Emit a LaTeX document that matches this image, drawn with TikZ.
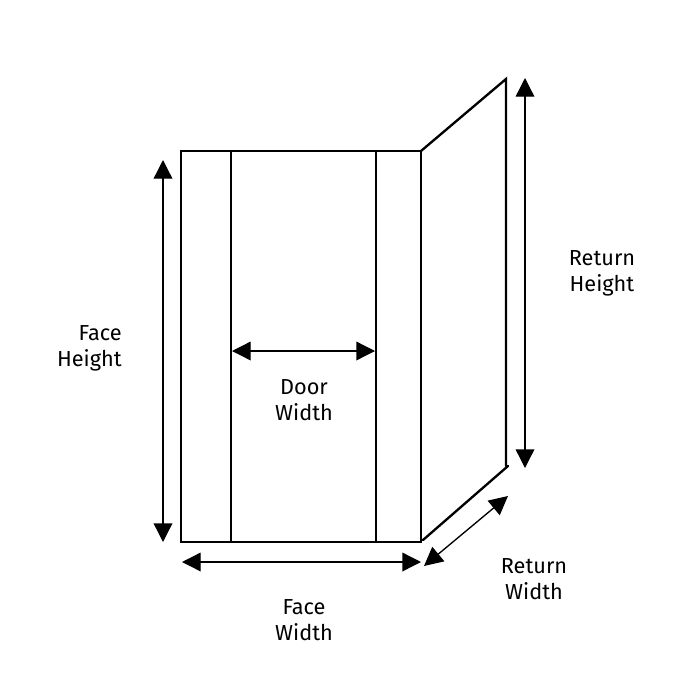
\documentclass[tikz,border=0pt]{standalone}
\usepackage{fontspec}
\setmainfont{Fira Sans}
\usetikzlibrary{arrows.meta,positioning}

\begin{document}
\begin{tikzpicture}[
  x=0.75pt, y=-0.75pt,
  wall/.style={line width=1.75pt, line cap=round, line join=miter},
  arr/.style={{Triangle[length=14pt,width=14pt]}-{Triangle[length=14pt,width=14pt]}, line width=1pt},
  lbl/.style={align=center, font=\fontsize{16.3}{19.5}\selectfont, inner sep=0pt}
]
\useasboundingbox (0,0) rectangle (700,700);

% frame corners
\coordinate (tl) at (181,151);
\coordinate (tr) at (421,151);
\coordinate (bl) at (181,542);
\coordinate (br) at (421,542);
\coordinate (dtl) at (231,151);
\coordinate (dbl) at (231,542);
\coordinate (dtr) at (376,151);
\coordinate (dbr) at (376,542);
\coordinate (rt) at (506,79);
\coordinate (rb) at (506,466);
\coordinate (rbs) at (423,540);
\coordinate (rbe) at (508,466);

% arrow ends
\coordinate (fh1) at (163,160);
\coordinate (fh2) at (163,542);
\coordinate (rh1) at (525,78);
\coordinate (rh2) at (525,468);
\coordinate (dw1) at (232,351);
\coordinate (dw2) at (375,351);
\coordinate (fw1) at (182,562);
\coordinate (fw2) at (421,562);
\coordinate (rw1) at (424,566);
\coordinate (rw2) at (508,496);

\draw[wall] (tl) -- (tr) -- (br) -- (bl) -- cycle;
\draw[wall] (dtl) -- (dbl);
\draw[wall] (dtr) -- (dbr);
\draw[wall] (tr) -- (rt) -- (rb);
\draw[wall] (rbs) -- (rbe);

\draw[arr] (fh1) -- (fh2);
\draw[arr] (rh1) -- (rh2);
\draw[arr] (dw1) -- (dw2);
\draw[arr] (fw1) -- (fw2);
\draw[arr] (rw1) -- (rw2);

\node[lbl, align=right, anchor=east] (faceh) at (122,348) {Face\\Height};
\node[lbl] (doorw) at (304,400) {Door\\Width};
\node[lbl] (retw) at (534,579) {Return\\Width};
\node[lbl] (reth) at (602,273) {Return\\Height};
\node[lbl] (facew) at (304,620) {Face\\Width};
\end{tikzpicture}
\end{document}
